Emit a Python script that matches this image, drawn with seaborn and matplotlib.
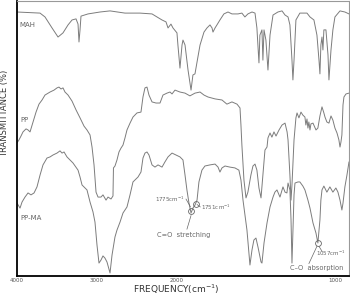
import numpy as np
import pandas as pd
import matplotlib
matplotlib.use("Agg")
import matplotlib.pyplot as plt
import seaborn as sns

# ---------------- data (wavenumber cm-1, transmittance %) ----------------
mah_w = [4000, 3712, 3650, 3562, 3487, 3425, 3362, 3312, 3262, 3237, 3225, 3212, 3200, 3112,
         2962, 2837, 2650, 2462, 2312, 2250, 2187, 2137, 2112, 2075, 2050, 2000, 1994, 1981,
         1968, 1962, 1949, 1930, 1911, 1899, 1886, 1873, 1854, 1829, 1810, 1791, 1778, 1772,
         1759, 1747, 1728, 1703, 1677, 1652, 1614, 1589, 1570, 1551, 1525, 1506, 1494, 1481,
         1475, 1462, 1456, 1449, 1437, 1424, 1411, 1392, 1361, 1335, 1316, 1297, 1285, 1272,
         1266, 1259, 1247, 1222, 1177, 1158, 1133, 1114, 1101, 1095, 1089, 1082, 1076, 1070,
         1057, 1044, 1038, 1025, 1013, 1000, 968, 937, 911]
mah_t = [96.0, 95.6, 94.2, 90.2, 86.9, 88.4, 91.3, 93.1, 93.5, 91.6, 85.1, 89.5, 94.5, 95.3,
         96.0, 96.4, 95.6, 95.6, 95.3, 94.2, 93.1, 92.4, 90.2, 91.6, 90.2, 88.4, 84.0, 75.6,
         84.0, 85.8, 84.0, 74.9, 67.6, 73.1, 73.5, 77.8, 84.0, 88.7, 90.2, 91.3, 90.2, 88.7,
         90.2, 91.3, 93.1, 95.3, 96.0, 95.3, 95.3, 95.6, 94.2, 95.3, 96.0, 95.6, 90.2, 77.5,
         87.6, 89.5, 78.5, 89.5, 85.8, 74.9, 87.6, 94.9, 96.0, 96.4, 94.9, 94.2, 91.3, 78.5,
         71.3, 78.5, 93.1, 95.6, 95.6, 94.2, 93.1, 87.6, 78.5, 73.5, 84.0, 86.9, 82.2, 89.5,
         89.5, 80.4, 71.3, 82.2, 89.5, 94.2, 96.4, 96.0, 95.3]

pp_w = [4000, 3975, 3950, 3925, 3887, 3862, 3837, 3800, 3762, 3725, 3687, 3650, 3587, 3537,
        3500, 3475, 3450, 3425, 3400, 3362, 3312, 3262, 3212, 3162, 3125, 3087, 3062, 3037,
        3012, 2987, 2950, 2925, 2887, 2862, 2825, 2800, 2794, 2775, 2750, 2725, 2700, 2675,
        2650, 2625, 2587, 2550, 2500, 2450, 2425, 2400, 2375, 2350, 2312, 2262, 2212, 2175,
        2125, 2087, 2062, 2025, 1981, 1949, 1918, 1886, 1854, 1829, 1804, 1759, 1715, 1684,
        1652, 1620, 1601, 1595, 1589, 1576, 1563, 1551, 1532, 1519, 1506, 1494, 1481, 1468,
        1456, 1443, 1430, 1424, 1411, 1399, 1386, 1373, 1354, 1335, 1316, 1303, 1297, 1285,
        1278, 1272, 1259, 1247, 1240, 1228, 1215, 1203, 1190, 1184, 1177, 1171, 1165, 1158,
        1152, 1139, 1120, 1108, 1095, 1082, 1070, 1063, 1051, 1038, 1025, 1013, 1000, 987,
        975, 968, 962, 956, 949, 943, 930, 911]
pp_t = [48.4, 49.5, 50.9, 52.4, 53.5, 53.1, 52.4, 56.0, 59.6, 62.5, 64.0, 65.8, 66.9, 67.6,
        68.4, 68.7, 68.0, 68.4, 66.9, 65.8, 63.6, 60.4, 57.5, 54.5, 53.1, 51.3, 46.9, 40.4,
        30.5, 28.7, 28.7, 29.5, 27.6, 28.7, 28.0, 29.1, 39.3, 40.0, 42.2, 45.1, 46.5, 47.6,
        50.2, 53.1, 55.6, 57.8, 59.3, 59.6, 65.1, 68.4, 68.7, 65.8, 63.3, 62.9, 62.9, 65.8,
        66.5, 66.9, 66.2, 67.6, 66.9, 66.5, 65.5, 66.5, 66.9, 65.8, 65.1, 64.4, 64.0, 62.5,
        63.3, 62.5, 61.1, 54.9, 47.6, 34.9, 28.4, 30.5, 36.7, 40.0, 40.7, 38.5, 32.0, 28.4,
        36.7, 45.8, 46.9, 50.2, 52.0, 50.5, 52.4, 50.9, 53.1, 54.9, 55.6, 52.4, 49.5, 36.7,
        27.6, 33.1, 49.5, 57.5, 59.3, 57.5, 59.6, 58.5, 57.8, 54.9, 57.1, 53.8, 56.0, 53.1,
        55.3, 55.6, 53.1, 53.8, 58.2, 61.5, 59.3, 57.8, 56.0, 55.6, 58.2, 56.7, 53.8, 52.0,
        49.5, 46.9, 48.7, 51.3, 62.2, 65.1, 66.2, 66.5]

ppma_w = [4000, 3962, 3937, 3900, 3862, 3825, 3787, 3750, 3712, 3675, 3625, 3587, 3550, 3500,
          3462, 3437, 3412, 3375, 3337, 3300, 3237, 3212, 3187, 3150, 3125, 3087, 3050, 3025,
          3000, 2975, 2950, 2925, 2900, 2875, 2837, 2812, 2775, 2750, 2712, 2675, 2625, 2587,
          2550, 2525, 2487, 2450, 2425, 2400, 2375, 2350, 2312, 2275, 2237, 2187, 2150, 2112,
          2062, 2012, 1981, 1962, 1949, 1937, 1924, 1911, 1899, 1886, 1873, 1861, 1842, 1823,
          1791, 1759, 1740, 1728, 1715, 1696, 1665, 1633, 1608, 1595, 1582, 1557, 1538, 1525,
          1513, 1500, 1487, 1468, 1462, 1449, 1430, 1411, 1392, 1380, 1367, 1348, 1329, 1316,
          1304, 1297, 1285, 1278, 1272, 1266, 1259, 1253, 1234, 1222, 1203, 1190, 1171, 1158,
          1139, 1120, 1108, 1095, 1089, 1082, 1070, 1051, 1032, 1013, 994, 981, 968, 956,
          949, 937, 924, 911]
ppma_t = [26.5, 24.7, 26.9, 28.7, 30.2, 29.5, 30.2, 32.4, 36.7, 40.4, 42.9, 43.3, 44.0, 44.7,
          45.5, 44.7, 45.1, 43.3, 42.2, 41.1, 38.5, 36.0, 33.1, 32.0, 31.3, 26.9, 23.3, 19.6,
          11.3, 4.7, 5.8, 7.3, 6.5, 5.1, 1.1, 7.6, 14.2, 16.7, 19.6, 22.9, 25.1, 29.5,
          34.2, 34.9, 36.0, 37.8, 42.9, 44.7, 45.1, 44.0, 40.4, 39.6, 40.4, 39.6, 41.5, 43.3,
          44.7, 44.0, 43.3, 42.2, 36.7, 31.3, 26.5, 22.9, 24.7, 25.8, 27.6, 34.2, 38.5, 40.0,
          40.4, 40.7, 39.6, 37.8, 39.3, 40.0, 39.6, 39.3, 38.5, 34.9, 27.6, 16.7, 4.0, 9.5,
          13.1, 13.8, 10.5, 5.1, 4.7, 12.0, 19.3, 25.1, 28.7, 30.5, 31.3, 28.7, 32.4, 30.5,
          30.2, 33.8, 31.3, 20.4, 4.7, 16.7, 29.5, 33.8, 34.2, 34.2, 32.7, 31.3, 27.6, 24.7,
          19.3, 15.6, 12.0, 20.4, 27.6, 31.3, 32.7, 30.5, 32.4, 30.5, 32.0, 30.5, 27.6, 24.0,
          26.5, 32.4, 36.7, 41.5]

series_names = ["MAH", "PP", "PP-MA"]
x_ticks = [4000, 3000, 2000, 1000]

# ---------------- piecewise (compressed above 2000) wavenumber scale ----------------
# increasing in w; the axis is then shown high -> low via set_xlim(4000, 911)
def fwd(w):
    w = np.asarray(w, dtype=float)
    return np.where(w >= 2000, -(4000 - w) * 0.08, -(160 + (2000 - w) * 0.158))

def inv(u):
    u = -np.asarray(u, dtype=float)
    return np.where(u <= 160, 4000 - u / 0.08, 2000 - (u - 160) / 0.158)

sns.set_theme(style="white")
plt.rcParams['font.family'] = ['DejaVu Sans']

fig = plt.figure(figsize=(3.5, 2.95), dpi=100)
ax = fig.add_axes([17 / 350, 1 - 276 / 295, 332 / 350, 275 / 295])
ax.set_xscale('function', functions=(fwd, inv))

line_col = '#7c7c7c'
for name, w, t in zip(series_names, [mah_w, pp_w, ppma_w], [mah_t, pp_t, ppma_t]):
    df = pd.DataFrame({"w": w, "t": t})
    sns.lineplot(data=df, x="w", y="t", ax=ax, color=line_col, lw=0.7,
                 estimator=None, sort=False)

ax.set_xlim(4000, 911)
ax.set_ylim(0, 100)
ax.set_xticks(x_ticks)
ax.set_xticklabels([str(v) for v in x_ticks], fontsize=4, color='#555555')
ax.set_yticks([])
ax.tick_params(axis='x', direction='in', length=3, width=0.6, pad=1.5, color='#333333')
ax.set_xlabel("")
ax.set_ylabel("")

for side in ['left', 'bottom']:
    ax.spines[side].set_color('black')
    ax.spines[side].set_linewidth(1.3)
for side in ['top', 'right']:
    ax.spines[side].set_color('#999999')
    ax.spines[side].set_linewidth(0.8)

tc = '#666666'
fs = 5
ax.text(3975, 91.3, "MAH", fontsize=fs, color=tc, va='center', ha='left')
ax.text(3962, 56.7, "PP", fontsize=fs, color=tc, va='center', ha='left')
ax.text(3962, 21.1, "PP-MA", fontsize=fs, color=tc, va='center', ha='left')

# annotations
circ = dict(marker='o', ms=4.2, mfc='none', mec='#666666', mew=0.6, ls='none')
ax.plot([1911], [23.6], **circ)
ax.plot([1880], [26.2], **circ)
ax.plot([1108], [12.0], **circ)

ax.text(1949, 28.0, "1775cm$^{-1}$", fontsize=4, color=tc, ha='right', va='center')
ax.plot([1943, 1915], [28.0, 25.2], color='#666666', lw=0.5)
ax.text(1848, 25.1, "1751cm$^{-1}$", fontsize=4, color=tc, ha='left', va='center')
ax.plot([1873, 1852], [26.0, 25.1], color='#666666', lw=0.5)
ax.text(2250, 14.9, "C=O  stretching", fontsize=4.8, color=tc, ha='left', va='center')
ax.plot([1937, 1911], [17.0, 22.0], color='#666666', lw=0.5)

ax.text(1120, 8.4, "1057cm$^{-1}$", fontsize=4, color=tc, ha='left', va='center')
ax.plot([1101, 1082], [10.8, 9.0], color='#666666', lw=0.5)
ax.plot([1114, 1165], [10.8, 4.5], color='#666666', lw=0.5)
ax.text(1285, 2.9, "C\u2013O  absorption", fontsize=4.8, color=tc, ha='left', va='center')

fig.text(5 / 350, 1 - 113 / 295, "TRANSMITTANCE (%)", rotation=90, fontsize=6,
         color='#333333', ha='center', va='center')
fig.text(176 / 350, 1 - 289 / 295, "FREQUENCY(cm$^{-1}$)", fontsize=6.5,
         color='#333333', ha='center', va='center')

fig.savefig("out.png", dpi=100)
